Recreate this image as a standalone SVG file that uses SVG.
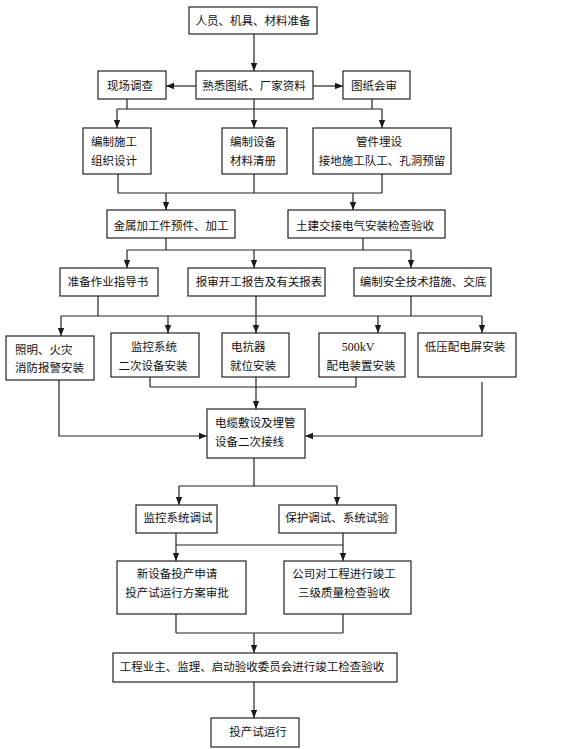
<svg xmlns="http://www.w3.org/2000/svg" width="576" height="749" viewBox="0 0 576 749">
<defs>
<marker id="arr" viewBox="0 0 8 8" refX="8" refY="4" markerWidth="8" markerHeight="8" markerUnits="userSpaceOnUse" orient="auto">
<path d="M0,0.8 L8,4 L0,7.2 Z" fill="#1a1a1a"/>
</marker>
<style>
.n rect{fill:#fff;stroke:#222;stroke-width:1.2}
.n text{font-family:"Noto Sans CJK SC","Noto Sans",sans-serif;font-size:11.5px;fill:#111;text-anchor:middle}
.n text.l{text-anchor:start}
.n text.s{font-family:"Liberation Serif",serif;font-size:12px}
#edges path{fill:none;stroke:#222;stroke-width:1.2}
#edges path.a{marker-end:url(#arr)}
</style>
</defs>
<rect width="576" height="749" fill="#fff"/>
<g id="edges">
<path class="a" d="M254,34 V71"/>
<path class="a" d="M196,86 H166"/>
<path class="a" d="M313,86 H343"/>
<path d="M127,99 V109 M372,99 V109 M117,109 H382"/>
<path class="a" d="M254,99 V128"/>
<path class="a" d="M117,109 V128"/>
<path class="a" d="M382,109 V128"/>
<path d="M118,174 V193 M254,174 V193 M382,174 V193 M118,193 H382"/>
<path class="a" d="M166,193 V210"/>
<path class="a" d="M353,193 V210"/>
<path d="M166,238 V250 M363,238 V250 M127,250 H411"/>
<path class="a" d="M127,250 V268"/>
<path class="a" d="M254,250 V268"/>
<path class="a" d="M411,250 V268"/>
<path d="M98,296 V316 M411,296 V316 M61,316 H482"/>
<path class="a" d="M256,296 V333"/>
<path class="a" d="M61,316 V336"/>
<path class="a" d="M168,316 V333"/>
<path class="a" d="M378,316 V333"/>
<path class="a" d="M482,316 V333"/>
<path d="M150,377 V387 M356,377 V387 M150,387 H356"/>
<path class="a" d="M256,377 V409"/>
<path class="a" d="M59,380 V436 H207"/>
<path class="a" d="M482,382 V436 H305"/>
<path d="M254,458 V486 M179,486 H337"/>
<path class="a" d="M179,486 V505"/>
<path class="a" d="M337,486 V505"/>
<path d="M176,545 H343"/>
<path class="a" d="M176,533 V561"/>
<path class="a" d="M343,533 V561"/>
<path d="M176,614 V633 M343,614 V633 M176,633 H343"/>
<path class="a" d="M254,633 V653"/>
<path class="a" d="M254,682 V718"/>
</g>
<g id="n1" class="n"><rect x="189" y="7" width="128" height="27"/><text x="253" y="24.5">人员、机具、材料准备</text></g>
<g id="n2" class="n"><rect x="98" y="71" width="68" height="28"/><text x="130" y="90">现场调查</text></g>
<g id="n3" class="n"><rect x="196" y="71" width="117" height="28"/><text x="254" y="90">熟悉图纸、厂家资料</text></g>
<g id="n4" class="n"><rect x="343" y="71" width="67" height="28"/><text x="374" y="90">图纸会审</text></g>
<g id="n5" class="n"><rect x="83" y="128" width="68" height="46"/><text x="114" y="146">编制施工</text><text x="114" y="165">组织设计</text></g>
<g id="n6" class="n"><rect x="222" y="128" width="65" height="46"/><text x="253" y="146">编制设备</text><text x="253" y="165">材料清册</text></g>
<g id="n7" class="n"><rect x="313" y="128" width="138" height="46"/><text x="379" y="146">管件埋设</text><text x="382" y="165">接地施工队工、孔洞预留</text></g>
<g id="n8" class="n"><rect x="107" y="210" width="128" height="28"/><text x="171" y="230">金属加工件预件、加工</text></g>
<g id="n9" class="n"><rect x="288" y="210" width="157" height="28"/><text x="365" y="230">土建交接电气安装检查验收</text></g>
<g id="n10" class="n"><rect x="60" y="268" width="98" height="28"/><text x="108" y="286">准备作业指导书</text></g>
<g id="n11" class="n"><rect x="188" y="268" width="137" height="28"/><text x="259" y="286">报审开工报告及有关报表</text></g>
<g id="n12" class="n"><rect x="354" y="268" width="137" height="28"/><text x="423" y="286">编制安全技术措施、交底</text></g>
<g id="n13" class="n"><rect x="6" y="336" width="88" height="44"/><text class="l" x="15" y="354">照明、火灾</text><text class="l" x="15" y="372">消防报警安装</text></g>
<g id="n14" class="n"><rect x="111" y="333" width="88" height="44"/><text x="154" y="351">监控系统</text><text x="153" y="370">二次设备安装</text></g>
<g id="n15" class="n"><rect x="222" y="333" width="67" height="44"/><text class="l" x="231" y="351">电抗器</text><text class="l" x="230" y="370">就位安装</text></g>
<g id="n16" class="n"><rect x="319" y="333" width="86" height="44"/><text class="s" x="358" y="351">500kV</text><text x="361" y="370">配电装置安装</text></g>
<g id="n17" class="n"><rect x="418" y="333" width="98" height="44"/><text x="465" y="351">低压配电屏安装</text></g>
<g id="n18" class="n"><rect x="207" y="409" width="98" height="49"/><text class="l" x="215" y="427">电缆敷设及埋管</text><text class="l" x="215" y="446">设备二次接线</text></g>
<g id="n19" class="n"><rect x="136" y="505" width="81" height="28"/><text x="178" y="522">监控系统调试</text></g>
<g id="n20" class="n"><rect x="279" y="505" width="117" height="28"/><text x="337" y="522">保护调试、系统试验</text></g>
<g id="n21" class="n"><rect x="117" y="561" width="129" height="53"/><text x="177" y="578">新设备投产申请</text><text x="177" y="597">投产试运行方案审批</text></g>
<g id="n22" class="n"><rect x="284" y="561" width="127" height="53"/><text x="344" y="578">公司对工程进行竣工</text><text x="344" y="597">三级质量检查验收</text></g>
<g id="n23" class="n"><rect x="113" y="653" width="284" height="29"/><text x="252" y="671">工程业主、监理、启动验收委员会进行竣工检查验收</text></g>
<g id="n24" class="n"><rect x="211" y="718" width="88" height="29"/><text x="258" y="736">投产试运行</text></g>
</svg>
